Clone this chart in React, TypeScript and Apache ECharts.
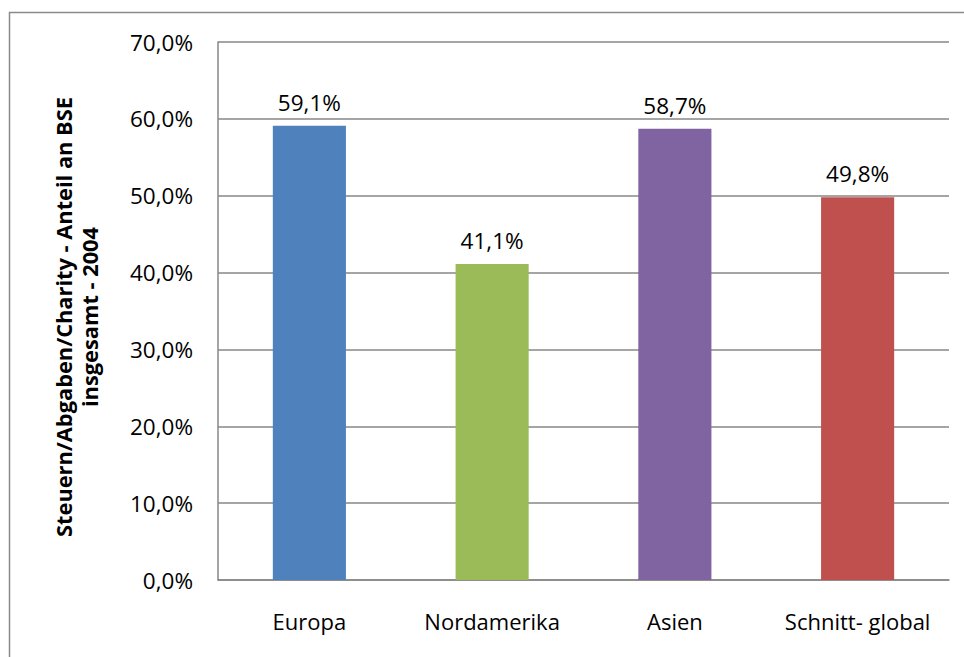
import React, { useEffect, useRef } from "react";
import * as echarts from "echarts";

const categories = ["Europa", "Nordamerika", "Asien", "Schnitt- global"];
const values = [59.1, 41.1, 58.7, 49.8];
const barColors = ["#4F81BD", "#9BBB59", "#8064A2", "#C0504D"];
const titleLines = ["Steuern/Abgaben/Charity - Anteil an BSE", "insgesamt - 2004"];

const FONT = "'Open Sans', 'Noto Sans', sans-serif";
const fmt = (v: number) => v.toFixed(1).replace(".", ",") + "%";

export default function App() {
  const ref = useRef<HTMLDivElement>(null);
  useEffect(() => {
    if (!ref.current) return;
    const chart = echarts.init(ref.current, undefined, { renderer: "svg" });
    chart.setOption({
      animation: false,
      backgroundColor: "#ffffff",
      grid: { left: 218, right: 15, top: 42, bottom: 77, containLabel: false },
      xAxis: {
        type: "category",
        data: categories,
        axisLine: { show: true, lineStyle: { color: "#878787", width: 1.5 } },
        axisTick: { show: false },
        axisLabel: { color: "#000", fontFamily: FONT, fontSize: 22, margin: 30, interval: 0, hideOverlap: false },
      },
      yAxis: {
        type: "value",
        min: 0,
        max: 70,
        interval: 10,
        axisLine: { show: true, lineStyle: { color: "#878787", width: 1.5 } },
        axisTick: { show: false },
        splitLine: { show: true, lineStyle: { color: "#878787", width: 1.5 } },
        axisLabel: { color: "#000", fontFamily: FONT, fontSize: 22.5, margin: 25, formatter: (v: number) => fmt(v) },
      },
      graphic: [
        {
          type: "rect",
          shape: { x: 9.5, y: 12.5, width: 2000, height: 2000 },
          style: { fill: "none", stroke: "#8a8a8a", lineWidth: 1.5 },
          silent: true,
        },
        {
          type: "text",
          x: 76,
          y: 317,
          rotation: Math.PI / 2,
          style: {
            text: titleLines.join("\n"),
            fontFamily: FONT,
            fontSize: 21.8,
            fontWeight: "bold",
            fill: "#000",
            align: "center",
            verticalAlign: "middle",
            lineHeight: 26,
          },
        },
      ],
      series: [
        {
          type: "bar",
          data: values.map((v, i) => ({ value: v, itemStyle: { color: barColors[i] } })),
          barWidth: "40%",
          label: {
            show: true,
            position: "top",
            distance: 12,
            color: "#000",
            fontFamily: FONT,
            fontSize: 22.5,
            formatter: (p: any) => fmt(p.value),
          },
        },
      ],
    });
    return () => chart.dispose();
  }, []);
  return <div ref={ref} style={{ position: "fixed", left: 0, top: 0, width: 964, height: 657 }} />;
}
